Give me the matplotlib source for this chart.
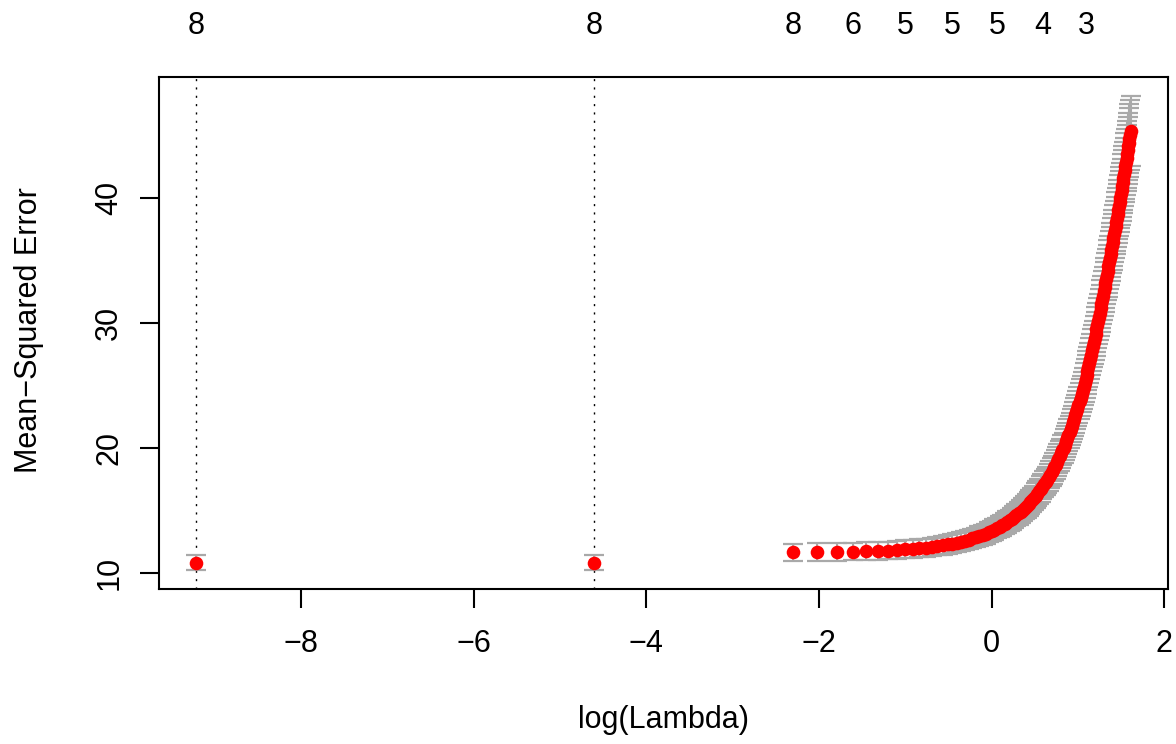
import matplotlib.pyplot as plt
import numpy as np

plt.rcParams['font.family'] = ['Liberation Sans', 'DejaVu Sans']

# lambda grid of the cross-validation (1e-4, 0.01, then 0.1 .. 5 in steps of 1/30)
lambdas = [
    0.0001, 0.01,
    0.1, 0.133, 0.167, 0.2, 0.233, 0.267, 0.3, 0.333, 0.367, 0.4, 0.433, 0.467,
    0.5, 0.533, 0.567, 0.6, 0.633, 0.667, 0.7, 0.733, 0.767, 0.8, 0.833, 0.867,
    0.9, 0.933, 0.967, 1.0, 1.033, 1.067, 1.1, 1.133, 1.167, 1.2, 1.233, 1.267,
    1.3, 1.333, 1.367, 1.4, 1.433, 1.467, 1.5, 1.533, 1.567, 1.6, 1.633, 1.667,
    1.7, 1.733, 1.767, 1.8, 1.833, 1.867, 1.9, 1.933, 1.967, 2.0, 2.033, 2.067,
    2.1, 2.133, 2.167, 2.2, 2.233, 2.267, 2.3, 2.333, 2.367, 2.4, 2.433, 2.467,
    2.5, 2.533, 2.567, 2.6, 2.633, 2.667, 2.7, 2.733, 2.767, 2.8, 2.833, 2.867,
    2.9, 2.933, 2.967, 3.0, 3.033, 3.067, 3.1, 3.133, 3.167, 3.2, 3.233, 3.267,
    3.3, 3.333, 3.367, 3.4, 3.433, 3.467, 3.5, 3.533, 3.567, 3.6, 3.633, 3.667,
    3.7, 3.733, 3.767, 3.8, 3.833, 3.867, 3.9, 3.933, 3.967, 4.0, 4.033, 4.067,
    4.1, 4.133, 4.167, 4.2, 4.233, 4.267, 4.3, 4.333, 4.367, 4.4, 4.433, 4.467,
    4.5, 4.533, 4.567, 4.6, 4.633, 4.667, 4.7, 4.733, 4.767, 4.8, 4.833, 4.867,
    4.9, 4.933, 4.967, 5.0,
]

cvm = [
    10.84, 10.84,
    11.65, 11.67, 11.70, 11.72, 11.75, 11.77, 11.80, 11.85, 11.89, 11.94, 11.99, 12.03,
    12.08, 12.15, 12.22, 12.29, 12.36, 12.43, 12.50, 12.59, 12.68, 12.77, 12.86, 12.95,
    13.04, 13.15, 13.26, 13.37, 13.48, 13.59, 13.70, 13.83, 13.96, 14.09, 14.22, 14.35,
    14.48, 14.63, 14.78, 14.92, 15.07, 15.22, 15.37, 15.54, 15.70, 15.87, 16.03, 16.20,
    16.36, 16.54, 16.73, 16.91, 17.09, 17.28, 17.46, 17.66, 17.87, 18.07, 18.27, 18.48,
    18.68, 18.91, 19.13, 19.36, 19.58, 19.81, 20.03, 20.28, 20.53, 20.77, 21.02, 21.27,
    21.52, 21.79, 22.06, 22.34, 22.61, 22.88, 23.15, 23.45, 23.74, 24.04, 24.33, 24.63,
    24.92, 25.24, 25.55, 25.87, 26.19, 26.50, 26.82, 27.15, 27.48, 27.82, 28.15, 28.48,
    28.81, 29.15, 29.49, 29.82, 30.16, 30.50, 30.84, 31.18, 31.52, 31.85, 32.19, 32.53,
    32.87, 33.20, 33.54, 33.87, 34.20, 34.54, 34.87, 35.20, 35.52, 35.85, 36.18, 36.50,
    36.83, 37.15, 37.47, 37.80, 38.12, 38.44, 38.76, 39.08, 39.40, 39.71, 40.03, 40.35,
    40.67, 40.98, 41.30, 41.61, 41.93, 42.24, 42.56, 42.87, 43.19, 43.50, 43.81, 44.13,
    44.44, 44.75, 45.06, 45.37,
]

cvsd = [
    0.60, 0.60,
    0.70, 0.70, 0.70, 0.71, 0.71, 0.71, 0.71, 0.71, 0.72, 0.72, 0.72, 0.73,
    0.73, 0.73, 0.74, 0.74, 0.75, 0.75, 0.76, 0.76, 0.77, 0.77, 0.78, 0.78,
    0.79, 0.80, 0.80, 0.81, 0.82, 0.82, 0.83, 0.84, 0.85, 0.85, 0.86, 0.87,
    0.88, 0.89, 0.90, 0.90, 0.91, 0.92, 0.93, 0.94, 0.95, 0.96, 0.97, 0.98,
    0.99, 1.00, 1.01, 1.02, 1.04, 1.05, 1.06, 1.07, 1.08, 1.10, 1.11, 1.12,
    1.13, 1.14, 1.16, 1.17, 1.18, 1.20, 1.21, 1.23, 1.24, 1.26, 1.27, 1.29,
    1.30, 1.32, 1.33, 1.35, 1.37, 1.38, 1.40, 1.42, 1.44, 1.46, 1.47, 1.49,
    1.51, 1.53, 1.55, 1.57, 1.58, 1.60, 1.62, 1.64, 1.66, 1.68, 1.70, 1.72,
    1.74, 1.76, 1.78, 1.80, 1.82, 1.84, 1.86, 1.88, 1.90, 1.93, 1.95, 1.97,
    1.99, 2.01, 2.03, 2.06, 2.08, 2.10, 2.12, 2.14, 2.16, 2.18, 2.20, 2.22,
    2.24, 2.26, 2.28, 2.31, 2.33, 2.35, 2.37, 2.39, 2.41, 2.43, 2.45, 2.47,
    2.49, 2.51, 2.53, 2.55, 2.57, 2.59, 2.61, 2.63, 2.65, 2.67, 2.69, 2.71,
    2.73, 2.75, 2.78, 2.80,
]

# number of nonzero coefficients shown along the top
nzero_lambdas = [0.0001, 0.01, 0.1, 0.2, 0.367, 0.633, 1.067, 1.8, 3.0]
nzero_labels = ["8", "8", "8", "6", "5", "5", "5", "4", "3"]

lambda_min = 0.0001
lambda_1se = 0.01

xticks = [-8, -6, -4, -2, 0, 2]
yticks = [10, 20, 30, 40]

FS = 22

log_lam = np.log(lambdas)
cvm = np.array(cvm)
cvsd = np.array(cvsd)
upper = cvm + cvsd
lower = cvm - cvsd

fig = plt.figure(figsize=(11.76, 7.44), dpi=100)
ax = fig.add_axes([159 / 1176, 1 - 589 / 744, (1168 - 159) / 1176, (589 - 77) / 744])

ax.errorbar(log_lam, cvm, yerr=cvsd, fmt='none', ecolor='darkgrey',
            elinewidth=1.5, capsize=7.5, capthick=1.6, zorder=2)
ax.plot(log_lam, cvm, 'o', color='red', markersize=9.8, markeredgewidth=0, zorder=3)

for lam in [lambda_min, lambda_1se]:
    ax.axvline(np.log(lam), color='black', lw=1.0, linestyle=(0, (1.5, 4.5)), zorder=1)

# R style 4% padding
xr = log_lam.max() - log_lam.min()
ax.set_xlim(log_lam.min() - 0.04 * xr, log_lam.max() + 0.04 * xr)
yr = upper.max() - lower.min()
ax.set_ylim(lower.min() - 0.04 * yr, upper.max() + 0.04 * yr)

ax.set_xticks(xticks)
ax.set_yticks(yticks)
ax.set_xticklabels([f"{t}".replace("-", "\u2212") for t in xticks])
ax.set_yticklabels([str(t) for t in yticks], rotation=90, va='center')
ax.tick_params(axis='both', length=14, width=1.5, labelsize=FS)
ax.tick_params(axis='x', pad=15)
ax.tick_params(axis='y', pad=11)
for s in ax.spines.values():
    s.set_linewidth(1.5)

top = ax.secondary_xaxis('top')
top.set_xticks(np.log(nzero_lambdas))
top.set_xticklabels(nzero_labels)
top.tick_params(length=0, labelsize=FS, pad=26)
top.spines['top'].set_visible(False)

fig.text(663.5 / 1176, 1 - 720 / 744, "log(Lambda)", ha='center', va='center', fontsize=FS)
fig.text(29 / 1176, 1 - 330 / 744, "Mean\u2212Squared Error", ha='center', va='center',
         rotation=90, fontsize=FS)

fig.savefig("out.png", dpi=100)
